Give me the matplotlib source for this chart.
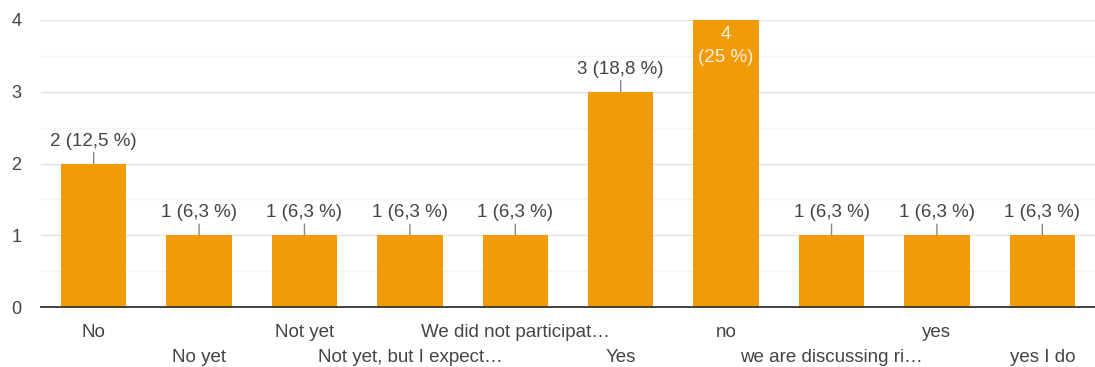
import matplotlib.pyplot as plt
import numpy as np

categories = ['No', 'No yet', 'Not yet', 'Not yet, but I expect\u2026', 'We did not participat\u2026',
              'Yes', 'no', 'we are discussing ri\u2026', 'yes', 'yes I do']
counts = [2, 1, 1, 1, 1, 3, 4, 1, 1, 1]
labels = ['2 (12,5 %)', '1 (6,3 %)', '1 (6,3 %)', '1 (6,3 %)', '1 (6,3 %)',
          '3 (18,8 %)', '4\n(25 %)', '1 (6,3 %)', '1 (6,3 %)', '1 (6,3 %)']

plt.rcParams['font.family'] = ['Liberation Sans', 'DejaVu Sans']
orange = '#f09b07'
txt = '#444444'
fs = 13.5

fig = plt.figure(figsize=(10.95, 3.67), dpi=100)
ax = fig.add_axes([41/1095, 1-307/367, 1-41/1095, (307-20)/367])

x = np.arange(len(counts))
ax.bar(x, counts, width=0.62, color=orange, zorder=3, clip_on=False)

ax.set_xlim(-0.5, len(counts)-0.5)
ax.set_ylim(0, 4)
ax.set_yticks([0, 1, 2, 3, 4])
ax.set_yticks(np.arange(0.5, 4, 1), minor=True)
ax.grid(axis='y', which='major', color='#e4e4e4', lw=1, zorder=0)
ax.grid(axis='y', which='minor', color='#f3f3f3', lw=1, zorder=0)
for s in ['top', 'right', 'left']:
    ax.spines[s].set_visible(False)
ax.spines['bottom'].set_color('#333333')
ax.spines['bottom'].set_linewidth(1.3)
ax.spines['bottom'].set_zorder(4)
ax.tick_params(axis='y', which='both', length=0, pad=14, labelsize=13, labelcolor=txt)
ax.tick_params(axis='x', length=0)
ax.set_xticks(x)
ax.set_xticklabels([])

# x labels alternate between two rows
for i, c in enumerate(categories):
    yoff = -12.5 if i % 2 == 0 else -30
    ax.annotate(c, xy=(i, 0), xytext=(0, yoff), textcoords='offset points',
                ha='center', va='top', fontsize=fs, color=txt, annotation_clip=False)

for i, (v, lab) in enumerate(zip(counts, labels)):
    if v == max(counts):
        ax.annotate(lab, xy=(i, v), xytext=(0, -4.5), textcoords='offset points',
                    ha='center', va='top', fontsize=fs, color='#fdf0dc',
                    linespacing=1.45, zorder=5)
    else:
        ax.annotate(lab, xy=(i, v), xytext=(0, 10), textcoords='offset points',
                    ha='center', va='bottom', fontsize=fs, color=txt,
                    arrowprops=dict(arrowstyle='-', color='#888888', lw=1,
                                    shrinkA=0, shrinkB=0))

fig.savefig('out.png', dpi=100)
